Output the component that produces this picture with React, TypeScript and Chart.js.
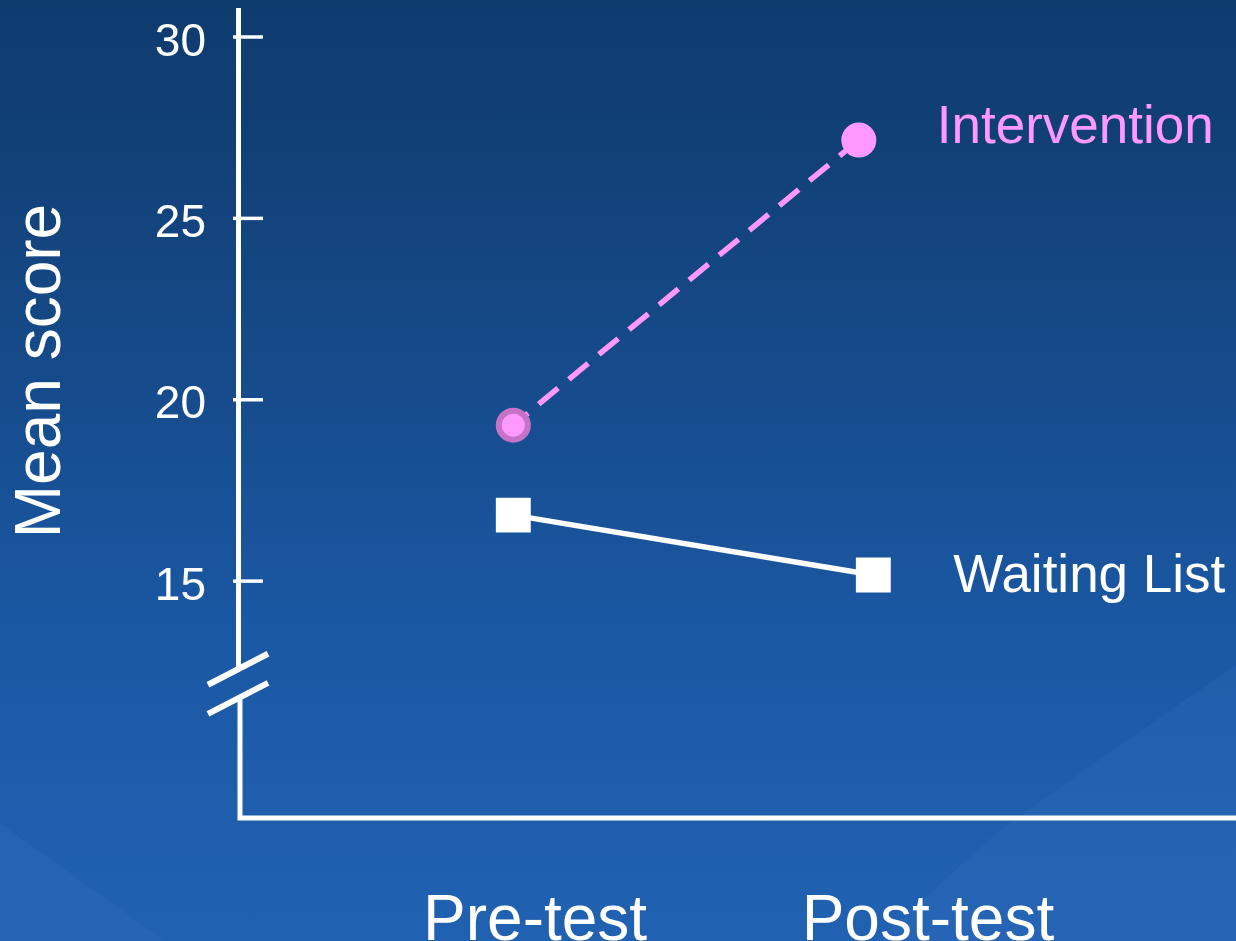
import React, { useEffect, useRef } from "react";
import { Chart, registerables } from "chart.js";

Chart.register(...registerables);

// ---- data ----
const categories = ["Pre-test", "Post-test"];
const categoryTickX = [1.063, 2.2];
const seriesNames = ["Intervention", "Waiting List"];
const interventionX = [1, 2];
const interventionY = [19.3, 27.16];
const waitingX = [1, 2.042];
const waitingY = [16.82, 15.17];
const yTickValues = [15, 20, 25, 30];
const yAxisTitle = "Mean score";

const FONT = "'Liberation Sans', Arial, Helvetica, sans-serif";
const PINK = "#ff99ff";

const customPlugin = {
  id: "customAxes",
  beforeDatasetsDraw(chart: any) {
    const { ctx, chartArea } = chart;
    const ys = chart.scales.y;
    const left = chartArea.left;
    ctx.save();
    ctx.strokeStyle = "#ffffff";
    ctx.lineCap = "butt";
    ctx.lineJoin = "miter";

    const topPx = ys.getPixelForValue(30.8);
    const breakHi = ys.getPixelForValue(12.57);
    const breakLo = ys.getPixelForValue(11.77);

    // upper vertical axis
    ctx.lineWidth = 5;
    ctx.beginPath();
    ctx.moveTo(left + 0.5, topPx);
    ctx.lineTo(left + 0.5, breakHi);
    ctx.stroke();

    // lower vertical axis + horizontal axis
    ctx.beginPath();
    ctx.moveTo(left + 2, breakLo);
    ctx.lineTo(left + 2, chartArea.bottom);
    ctx.lineTo(chartArea.right + 5, chartArea.bottom);
    ctx.stroke();

    // break marks
    ctx.lineWidth = 6;
    [breakHi, breakLo].forEach((py) => {
      ctx.beginPath();
      ctx.moveTo(left - 30, py + 15.5);
      ctx.lineTo(left + 30, py - 15.5);
      ctx.stroke();
    });

    // tick marks
    ctx.lineWidth = 3.5;
    yTickValues.forEach((v) => {
      const py = ys.getPixelForValue(v);
      ctx.beginPath();
      ctx.moveTo(left - 5, py);
      ctx.lineTo(left + 25, py);
      ctx.stroke();
    });

    // y axis title
    ctx.save();
    ctx.translate(60, 371);
    ctx.rotate(-Math.PI / 2);
    ctx.fillStyle = "#ffffff";
    ctx.font = `64px ${FONT}`;
    ctx.textAlign = "center";
    ctx.textBaseline = "alphabetic";
    ctx.fillText(yAxisTitle, 0, 0);
    ctx.restore();

    ctx.restore();
  },
  afterDatasetsDraw(chart: any) {
    const { ctx } = chart;
    const colors = [PINK, "#ffffff"];
    const dx = [78, 80];
    const dy = [3, 17];
    ctx.save();
    ctx.font = `53px ${FONT}`;
    ctx.textAlign = "left";
    ctx.textBaseline = "alphabetic";
    seriesNames.forEach((name, i) => {
      const meta = chart.getDatasetMeta(i);
      const last = meta.data[meta.data.length - 1];
      if (!last) return;
      ctx.fillStyle = colors[i];
      ctx.fillText(name, last.x + dx[i], last.y + dy[i]);
    });
    ctx.restore();
  },
};

export default function App() {
  const canvasRef = useRef<HTMLCanvasElement | null>(null);

  useEffect(() => {
    if (!canvasRef.current) return;
    const chart = new Chart(canvasRef.current, {
      type: "line",
      data: {
        datasets: [
          {
            label: seriesNames[0],
            data: interventionX.map((x, i) => ({ x, y: interventionY[i] })),
            borderColor: PINK,
            borderWidth: 5.5,
            borderDash: [25, 14],
            borderDashOffset: 6,
            pointStyle: "circle",
            pointRadius: 14.5,
            pointBorderWidth: 6,
            pointBackgroundColor: PINK,
            pointBorderColor: ["#c572c7", PINK],
            fill: false,
            tension: 0,
            clip: false,
          },
          {
            label: seriesNames[1],
            data: waitingX.map((x, i) => ({ x, y: waitingY[i] })),
            borderColor: "#ffffff",
            borderWidth: 5.5,
            pointStyle: "rect",
            pointRadius: 24.7,
            pointBorderWidth: 0,
            pointBackgroundColor: "#ffffff",
            pointBorderColor: "#ffffff",
            fill: false,
            tension: 0,
            clip: false,
          },
        ],
      },
      options: {
        animation: false,
        responsive: false,
        events: [],
        layout: { autoPadding: false, padding: { left: 6, top: 0, right: 0, bottom: 0 } },
        plugins: {
          legend: { display: false },
          tooltip: { enabled: false },
        },
        scales: {
          x: {
            type: "linear",
            min: 0.2032,
            max: 3.0917,
            grid: { display: false },
            border: { display: false },
            afterBuildTicks: (scale: any) => {
              scale.ticks = categoryTickX.map((v) => ({ value: v }));
            },
            afterFit: (scale: any) => {
              scale.height = 123;
              scale.paddingLeft = 0;
              scale.paddingRight = 0;
              scale.paddingTop = 0;
              scale.paddingBottom = 0;
            },
            ticks: {
              autoSkip: false,
              maxRotation: 0,
              minRotation: 0,
              padding: 58,
              color: "#ffffff",
              font: { family: FONT, size: 64, lineHeight: 1.2 },
              callback: (_v: any, idx: number) => categories[idx],
            },
          },
          y: {
            type: "linear",
            min: 8.47,
            max: 31.02,
            grid: { display: false },
            border: { display: false },
            afterBuildTicks: (scale: any) => {
              scale.ticks = yTickValues.map((v) => ({ value: v }));
            },
            afterFit: (scale: any) => {
              scale.width = 232;
              scale.paddingTop = 0;
              scale.paddingBottom = 0;
              scale.paddingLeft = 0;
              scale.paddingRight = 0;
            },
            ticks: {
              padding: 24,
              color: "#ffffff",
              font: { family: FONT, size: 46, lineHeight: 0.26 },
              callback: (v: any) => ["", String(v)],
            },
          },
        },
      },
      plugins: [customPlugin],
    } as any);
    return () => chart.destroy();
  }, []);

  return (
    <div
      style={{
        position: "fixed",
        left: 0,
        top: 0,
        width: 1236,
        height: 941,
        overflow: "hidden",
        background:
          "linear-gradient(180deg, #0f3c6f 0%, #114076 15%, #164b8b 40%, #1a57a2 65%, #1e5ead 85%, #2061b1 100%)",
      }}
    >
      <div
        style={{
          position: "absolute",
          inset: 0,
          background: "rgba(80,130,215,0.14)",
          clipPath: "polygon(0px 823px, 165px 941px, 0px 941px)",
        }}
      />
      <div
        style={{
          position: "absolute",
          inset: 0,
          background: "rgba(80,130,215,0.12)",
          clipPath:
            "polygon(1236px 665px, 1120px 745px, 1000px 830px, 900px 920px, 875px 941px, 1236px 941px)",
        }}
      />
      <canvas
        ref={canvasRef}
        width={1236}
        height={941}
        style={{ position: "absolute", left: 0, top: 0, width: 1236, height: 941 }}
      />
    </div>
  );
}
